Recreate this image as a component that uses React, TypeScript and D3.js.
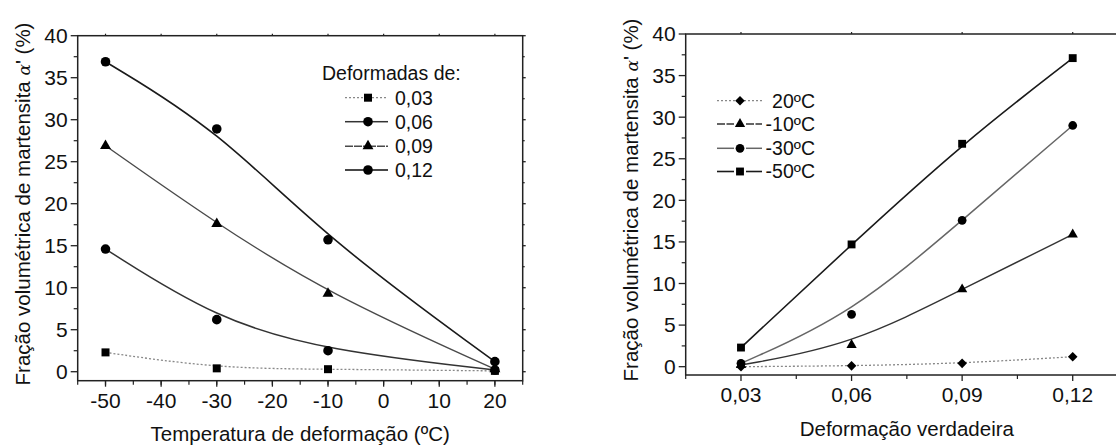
import React from "react";
import * as d3 from "d3";

// ---- data ----
const temperatures = [-50, -30, -10, 20];
const strains = [0.03, 0.06, 0.09, 0.12];

// left panel: fraction of alpha' martensite vs deformation temperature, one curve per strain
const strain003 = [2.3, 0.4, 0.3, 0.1];
const strain006 = [14.6, 6.2, 2.5, 0.2];
const strain009 = [26.9, 17.6, 9.3, 0.3];
const strain012 = [36.9, 28.9, 15.7, 1.2];
const strainLabels = ["0,03", "0,06", "0,09", "0,12"];

// right panel: fraction vs true strain, one curve per temperature
const temp20 = [0.0, 0.1, 0.4, 1.2];
const tempM10 = [0.2, 2.6, 9.3, 15.9];
const tempM30 = [0.4, 6.3, 17.6, 29.0];
const tempM50 = [2.3, 14.7, 26.8, 37.1];
const tempLabels = ["20ºC", "-10ºC", "-30ºC", "-50ºC"];

const yTicks = [0, 5, 10, 15, 20, 25, 30, 35, 40];
const yMinor = d3.range(2.5, 40, 5);
const tempTicks = [-50, -40, -30, -20, -10, 0, 10, 20];
const tempMinor = d3.range(-55, 26, 5);
const strainTicks = [0.03, 0.06, 0.09, 0.12];
const strainMinor = [0.015, 0.045, 0.075, 0.105, 0.135];

const FONT = "'Liberation Sans', Arial, Helvetica, sans-serif";

type Marker = "square" | "circle" | "triangle" | "diamond";

const markerPath = (m: Marker, big: boolean) => {
  if (m === "square") return d3.symbol(d3.symbolSquare, big ? 64 : 62)()!;
  if (m === "circle") return d3.symbol(d3.symbolCircle, big ? 72 : 60)()!;
  if (m === "triangle") return d3.symbol(d3.symbolTriangle, big ? 52 : 46)()!;
  return d3.symbol(d3.symbolSquare, 46)()!;
};

const MarkerMark = ({ m, x, y, big }: { m: Marker; x: number; y: number; big: boolean }) => (
  <path
    d={markerPath(m, big)}
    transform={`translate(${x},${y})${m === "diamond" ? " rotate(45)" : ""}`}
    fill="#000"
  />
);

type Series = { label: string; values: number[]; stroke: string; dash?: string; legendDash?: string; width: number; marker: Marker };

const YLabel = ({ x, y }: { x: number; y: number }) => (
  <text transform={`translate(${x},${y}) rotate(-90)`} textAnchor="middle" dy="0.35em" fontSize={20.5}>
    Fração volumétrica de martensita{" "}
    <tspan fontFamily="'DejaVu Serif', serif" fontStyle="italic" fontSize={17}>
      α
    </tspan>
    ' (%)
  </text>
);

const Panel = ({
  xs, ys, xVals, xTicks, xMinor, xFmt, series, xTitle, titleY, yLabelX, yLabelY, big, legend,
}: any) => {
  const [x0, x1] = xs.range();
  const [yb, yt] = ys.range();
  const line = d3
    .line<[number, number]>()
    .x((d) => xs(d[0]))
    .y((d) => ys(d[1]))
    .curve(d3.curveBasis);

  return (
    <g>
      {/* frame */}
      <rect x={x0} y={yt} width={x1 - x0} height={yb - yt} fill="none" stroke="#222" strokeWidth={1.5} />
      {/* y ticks */}
      {yTicks.map((t) => (
        <g key={"y" + t}>
          <line x1={x0 - 7} x2={x0} y1={ys(t)} y2={ys(t)} stroke="#222" strokeWidth={1.3} />
          <line x1={x1} x2={x1 + 3} y1={ys(t)} y2={ys(t)} stroke="#222" strokeWidth={1.3} />
          <text x={x0 - 10} y={ys(t)} dy="0.35em" textAnchor="end" fontSize={21}>
            {t}
          </text>
        </g>
      ))}
      {yMinor.map((t) => (
        <g key={"ym" + t}>
          <line x1={x0 - 4} x2={x0} y1={ys(t)} y2={ys(t)} stroke="#222" strokeWidth={1.2} />
          <line x1={x1} x2={x1 + 2} y1={ys(t)} y2={ys(t)} stroke="#222" strokeWidth={1.2} />
        </g>
      ))}
      {/* x ticks */}
      {xTicks.map((t: number) => (
        <g key={"x" + t}>
          <line x1={xs(t)} x2={xs(t)} y1={yb} y2={yb + 6} stroke="#222" strokeWidth={1.3} />
          <line x1={xs(t)} x2={xs(t)} y1={yt} y2={yt - 2} stroke="#222" strokeWidth={1.2} />
          <text x={xs(t)} y={yb + 27} textAnchor="middle" fontSize={21}>
            {xFmt(t)}
          </text>
        </g>
      ))}
      {xMinor.map((t: number) => (
        <line key={"xm" + t} x1={xs(t)} x2={xs(t)} y1={yb} y2={yb + 4} stroke="#222" strokeWidth={1.2} />
      ))}
      {/* titles */}
      <text x={(x0 + x1) / 2} y={titleY} textAnchor="middle" fontSize={20.5}>
        {xTitle}
      </text>
      <YLabel x={yLabelX} y={yLabelY} />
      {/* curves */}
      {series.map((s: Series) => (
        <path
          key={"c" + s.label}
          d={line(xVals.map((v: number, i: number) => [v, s.values[i]]))!}
          fill="none"
          stroke={s.stroke}
          strokeWidth={s.width}
          strokeDasharray={s.dash}
        />
      ))}
      {series.map((s: Series) =>
        xVals.map((v: number, i: number) => (
          <MarkerMark key={"m" + s.label + i} m={s.marker} x={xs(v)} y={ys(s.values[i])} big={big} />
        ))
      )}
      {/* legend */}
      {legend.title && (
        <text x={legend.titleX} y={legend.titleY} dy="0.35em" fontSize={19.5}>
          {legend.title}
        </text>
      )}
      {series.map((s: Series, i: number) => {
        const y = legend.rows[i];
        const gap = legend.gap && s.dash !== "2,2" ? legend.gap : 0;
        const dash = s.legendDash ?? s.dash;
        return (
          <g key={"l" + s.label}>
            <line x1={legend.lx0} x2={legend.mx - gap} y1={y} y2={y} stroke={s.stroke} strokeWidth={s.width} strokeDasharray={dash} />
            <line x1={legend.mx + gap} x2={legend.lx1} y1={y} y2={y} stroke={s.stroke} strokeWidth={s.width} strokeDasharray={dash} />
            <MarkerMark m={s.marker} x={legend.mx} y={y} big={big} />
            <text x={legend.tx} y={y} dy="0.35em" textAnchor={legend.anchor} fontSize={19.5}>
              {s.label}
            </text>
          </g>
        );
      })}
    </g>
  );
};

export default function App() {
  const xLeft = d3.scaleLinear().domain([-55, 25]).range([77.7, 522.7]);
  const yLeft = d3.scaleLinear().domain([-1.07, 40]).range([380.7, 35.7]);
  const xRight = d3.scaleLinear().domain([0.015, 0.135]).range([685.7, 1128]);
  const yRight = d3.scaleLinear().domain([-1.0, 40]).range([375, 34]);

  const leftSeries: Series[] = [
    { label: strainLabels[0], values: strain003, stroke: "#888", dash: "2,2", width: 1.3, marker: "square" },
    { label: strainLabels[1], values: strain006, stroke: "#333", width: 1.5, marker: "circle" },
    { label: strainLabels[2], values: strain009, stroke: "#4a4a4a", legendDash: "8,1", width: 1.4, marker: "triangle" },
    { label: strainLabels[3], values: strain012, stroke: "#1a1a1a", width: 1.6, marker: "circle" },
  ];
  const rightSeries: Series[] = [
    { label: tempLabels[0], values: temp20, stroke: "#888", dash: "2,2", width: 1.3, marker: "diamond" },
    { label: tempLabels[1], values: tempM10, stroke: "#333", legendDash: "8,1.5", width: 1.4, marker: "triangle" },
    { label: tempLabels[2], values: tempM30, stroke: "#666", width: 1.5, marker: "circle" },
    { label: tempLabels[3], values: tempM50, stroke: "#1a1a1a", width: 1.6, marker: "square" },
  ];

  return (
    <svg
      width={1116}
      height={447}
      style={{ position: "absolute", left: 0, top: 0, background: "#fff" }}
      fontFamily={FONT}
      fill="#111"
    >
      <Panel
        xs={xLeft}
        ys={yLeft}
        xVals={temperatures}
        xTicks={tempTicks}
        xMinor={tempMinor}
        xFmt={(t: number) => String(t)}
        series={leftSeries}
        xTitle="Temperatura de deformação (ºC)"
        titleY={441}
        yLabelX={23}
        yLabelY={204}
        big={true}
        legend={{
          title: "Deformadas de:",
          titleX: 322,
          titleY: 73,
          rows: [97.7, 121.7, 146.2, 170],
          lx0: 345,
          lx1: 388,
          mx: 368,
          tx: 395,
          anchor: "start",
        }}
      />
      <Panel
        xs={xRight}
        ys={yRight}
        xVals={strains}
        xTicks={strainTicks}
        xMinor={strainMinor}
        xFmt={(t: number) => d3.format(".2f")(t).replace(".", ",")}
        series={rightSeries}
        xTitle="Deformação verdadeira"
        titleY={436}
        yLabelX={631}
        yLabelY={200}
        big={false}
        legend={{
          rows: [100.7, 124, 148.3, 171.5],
          lx0: 717,
          lx1: 762,
          mx: 740,
          gap: 6,
          tx: 815,
          anchor: "end",
        }}
      />
    </svg>
  );
}
